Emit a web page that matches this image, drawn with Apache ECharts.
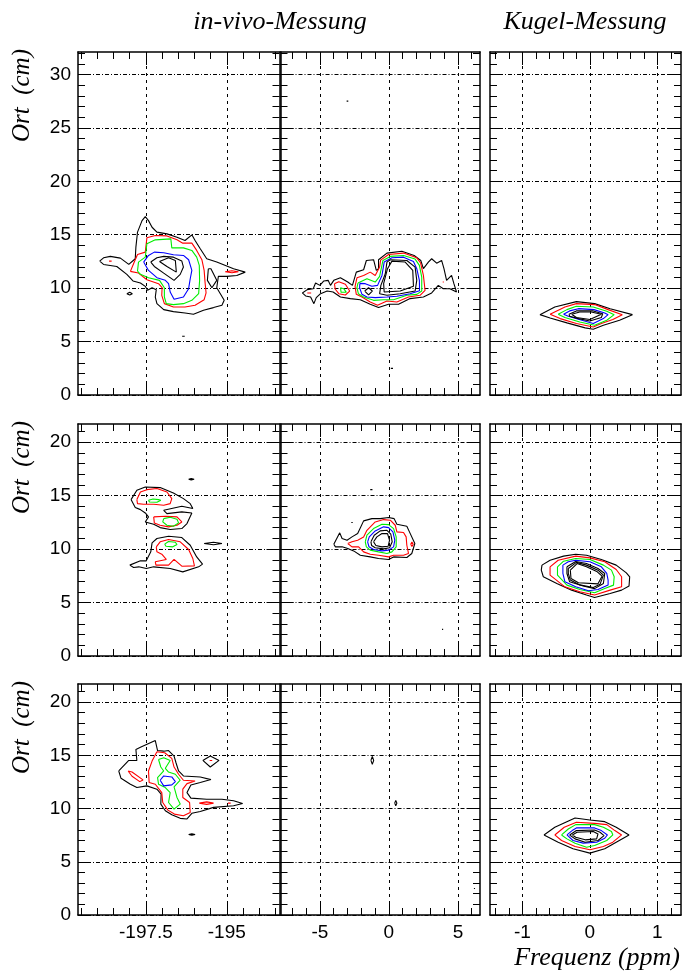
<!DOCTYPE html>
<html><head><meta charset="utf-8">
<script src="https://cdn.jsdelivr.net/npm/echarts@6/dist/echarts.min.js"></script>
<style>html,body{margin:0;padding:0;background:#fff}#c{width:682px;height:976px}</style>
</head><body><div id="c"></div>
<script>
// ================= DATA =================
const columnTitles = ['in-vivo-Messung', 'Kugel-Messung'];
const yTitle = 'Ort  (cm)';
const xTitle = 'Frequenz (ppm)';
const freqRanges = [[-199.6, -193.37], [-7.85, 6.6], [-1.48, 1.35]];
const ortRanges = [[0, 32.1], [0, 21.7], [0, 21.7]];
const freqMajor = [[-197.5, -195], [-5, 0, 5], [-1, 0, 1]];
const freqMinorStep = [0.5, 1, 0.2];
const ortMajor = [[0, 5, 10, 15, 20, 25, 30], [0, 5, 10, 15, 20], [0, 5, 10, 15, 20]];
const ortMinorStep = 1;

// contour rings: [level, [[freq, ort], ...]]   level 1 = outermost
const row1Wide = [
  [1, [[-198.93,12.53],[-198.81,12.84],[-198.60,12.97],[-198.29,12.81],[-198.03,12.22],[-197.83,12.75],[-197.81,13.84],[-197.76,15.24],[-197.62,16.32],[-197.52,16.70],[-197.42,16.32],[-197.31,15.70],[-197.16,15.24],[-196.85,15.08],[-196.54,14.77],[-196.29,14.46],[-196.08,14.99],[-195.98,14.46],[-195.82,13.68],[-195.62,12.75],[-195.31,12.44],[-194.79,11.82],[-194.43,11.50],[-194.69,11.19],[-195.00,11.10],[-195.26,11.10],[-195.31,10.04],[-195.08,8.86],[-195.15,8.40],[-195.41,8.18],[-195.72,7.93],[-196.03,7.56],[-196.29,7.68],[-196.65,7.80],[-196.95,7.99],[-197.16,8.55],[-197.21,9.17],[-197.18,9.86],[-197.31,10.04],[-197.45,9.80],[-197.52,10.17],[-197.67,10.48],[-197.90,10.67],[-198.09,11.29],[-198.40,12.03],[-198.81,12.22]]],
  [2, [[-197.98,11.57],[-197.86,12.45],[-197.76,13.15],[-197.52,13.37],[-197.47,14.71],[-197.21,14.93],[-196.85,14.89],[-196.54,14.52],[-196.36,14.21],[-196.08,14.21],[-195.93,13.53],[-195.77,12.66],[-195.70,11.66],[-195.67,10.48],[-195.64,9.55],[-195.70,8.92],[-195.98,8.40],[-196.29,8.24],[-196.65,8.24],[-196.93,8.55],[-197.01,9.33],[-197.00,10.04],[-197.11,10.42],[-197.47,10.79],[-197.73,11.41]]],
  [3, [[-197.76,11.60],[-197.73,12.44],[-197.52,12.90],[-197.47,14.15],[-197.21,14.52],[-196.73,14.61],[-196.70,13.77],[-196.34,13.77],[-196.08,13.53],[-195.93,12.90],[-195.85,12.13],[-195.84,10.73],[-195.87,9.48],[-196.08,8.86],[-196.34,8.55],[-196.65,8.46],[-196.87,8.55],[-196.93,9.17],[-196.93,10.04],[-197.08,10.73],[-197.42,10.98],[-197.67,11.29]]],
  [4, [[-197.57,12.44],[-197.42,13.06],[-197.24,13.37],[-196.95,13.31],[-196.65,13.12],[-196.34,13.06],[-196.18,12.66],[-196.08,11.66],[-196.13,10.88],[-196.18,9.95],[-196.34,9.17],[-196.63,8.96],[-196.75,9.64],[-196.80,10.42],[-196.90,10.73],[-197.16,10.98],[-197.42,11.66]]],
  [5, [[-197.35,12.44],[-197.16,12.84],[-196.95,12.97],[-196.65,12.90],[-196.39,12.53],[-196.34,11.97],[-196.44,11.29],[-196.63,10.73],[-196.95,11.41],[-197.24,12.03]]],
  [6, [[-197.08,12.50],[-196.80,12.84],[-196.59,12.59],[-196.56,11.50],[-196.85,12.03]]],
  [1, [[-195.57,11.82],[-195.60,10.73],[-195.46,10.04],[-195.31,10.73],[-195.49,11.82]]],
  [1, [[-198.09,9.48],[-198.00,9.61],[-197.92,9.48],[-198.00,9.36]]],
  [1, [[-196.38,5.50],[-196.34,5.56],[-196.30,5.50],[-196.34,5.44]]],
  [2, [[-198.64,12.53],[-198.60,12.58],[-198.56,12.53],[-198.60,12.48]]],
  [2, [[-195.05,11.54],[-194.84,11.63],[-194.64,11.54],[-194.84,11.44]]]
];
const row1Center = [
  [1, [[-6.27,9.55],[-5.91,9.86],[-5.48,9.95],[-5.31,10.48],[-5.00,10.26],[-4.71,10.67],[-4.40,10.73],[-4.23,10.26],[-3.99,10.73],[-3.51,10.98],[-2.98,10.57],[-2.64,10.26],[-2.36,11.50],[-1.83,11.72],[-1.63,12.59],[-1.11,12.66],[-0.91,11.66],[-0.75,11.82],[-0.75,12.66],[-0.14,13.28],[0.94,13.46],[1.83,13.06],[2.31,12.59],[2.50,11.82],[2.86,12.44],[3.10,12.75],[3.46,12.34],[3.82,12.59],[3.99,11.82],[4.18,10.73],[4.54,11.19],[4.71,10.42],[4.90,9.64],[4.42,9.95],[3.94,9.95],[3.58,10.26],[3.10,9.55],[2.50,9.17],[1.54,9.02],[0.70,8.49],[-0.02,8.49],[-0.75,8.18],[-1.35,8.49],[-2.07,8.92],[-2.79,9.02],[-3.51,9.17],[-4.04,9.64],[-4.47,9.73],[-4.95,9.48],[-5.26,9.11],[-5.43,8.55],[-5.67,9.17],[-6.03,9.27]]],
  [2, [[-2.31,10.98],[-1.83,11.19],[-1.35,11.50],[-0.99,11.19],[-0.67,11.97],[-0.60,12.62],[-0.02,13.15],[1.06,13.28],[2.02,12.84],[2.30,12.35],[2.50,11.19],[2.62,9.79],[2.26,9.33],[1.42,9.17],[0.58,8.71],[-0.14,8.80],[-0.82,8.40],[-1.35,8.71],[-1.95,9.17],[-2.36,9.42],[-2.45,10.17]]],
  [2, [[-3.94,10.42],[-3.63,10.60],[-3.15,10.36],[-2.84,9.73],[-3.15,9.36],[-3.63,9.48],[-3.89,9.92]]],
  [3, [[-3.51,10.04],[-3.27,9.95],[-3.08,9.61],[-3.46,9.61]]],
  [2, [[-5.91,9.55],[-5.77,9.64],[-5.63,9.55],[-5.77,9.45]]],
  [2, [[3.90,10.57],[3.94,10.62],[3.98,10.57],[3.94,10.52]]],
  [3, [[-2.24,10.48],[-1.59,10.88],[-0.99,10.57],[-0.67,11.10],[-0.43,12.59],[0.10,12.97],[1.06,13.06],[1.90,12.72],[2.21,12.13],[2.38,11.04],[2.38,9.73],[2.02,9.42],[1.30,9.33],[0.34,8.92],[-0.38,8.92],[-1.11,8.86],[-1.83,9.17],[-2.21,9.48],[-2.31,10.04]]],
  [4, [[-2.10,10.45],[-1.71,10.42],[-1.23,10.17],[-0.82,10.26],[-0.50,11.19],[-0.34,12.44],[0.22,12.84],[1.06,12.90],[1.78,12.50],[2.02,11.82],[2.21,10.73],[2.22,9.75],[1.54,9.48],[0.58,9.24],[-0.14,9.17],[-0.99,9.11],[-1.59,9.17],[-1.95,9.42],[-2.12,10.04]]],
  [5, [[0.10,12.66],[1.30,12.59],[1.90,11.97],[2.02,10.73],[1.90,9.73],[0.82,9.48],[-0.14,9.33],[-0.67,9.48],[-0.58,10.26],[-0.26,11.35],[-0.14,12.44]]],
  [6, [[0.22,12.53],[1.18,12.44],[1.73,11.66],[1.78,10.17],[0.82,9.73],[-0.34,9.64],[-0.38,10.42],[-0.10,11.82]]],
  [5, [[-1.75,9.73],[-1.47,10.04],[-1.20,9.73],[-1.47,9.36]]],
  [1, [[-3.06,27.5],[-3.0,27.62],[-2.94,27.5],[-3.0,27.38]]],
  [1, [[0.14,2.49],[0.22,2.6],[0.30,2.49],[0.22,2.38]]]
];
const row1Kugel = [
  [1, [[-0.74,7.52],[-0.52,8.24],[-0.20,8.74],[0.07,8.55],[0.30,8.08],[0.63,7.52],[0.44,7.00],[0.20,6.53],[0.05,6.16],[-0.07,6.28],[-0.34,6.75],[-0.59,7.21]]],
  [2, [[-0.59,7.56],[-0.37,8.24],[-0.20,8.55],[0.07,8.46],[0.27,7.99],[0.48,7.52],[0.34,7.06],[0.17,6.69],[0.05,6.37],[-0.20,6.69],[-0.44,7.15]]],
  [3, [[-0.47,7.56],[-0.34,7.99],[-0.20,8.30],[0.05,8.24],[0.25,7.84],[0.36,7.52],[0.25,7.00],[0.07,6.53],[-0.15,6.84],[-0.37,7.25]]],
  [4, [[-0.39,7.56],[-0.30,7.87],[-0.17,8.08],[0.06,7.99],[0.22,7.68],[0.27,7.52],[0.20,7.15],[0.05,6.69],[-0.12,7.00],[-0.32,7.37]]],
  [5, [[-0.31,7.56],[-0.20,7.87],[0.05,7.87],[0.19,7.60],[0.17,7.25],[0,6.93],[-0.17,7.15],[-0.30,7.37]]],
  [6, [[-0.27,7.56],[-0.15,7.77],[0.02,7.77],[0.17,7.56],[0,7.06],[-0.20,7.25]]]
];
const row2Wide = [
  [1, [[-197.96,14.63],[-197.78,15.50],[-197.52,15.81],[-197.06,15.75],[-196.65,15.25],[-196.34,14.72],[-196.13,14.25],[-196.05,13.79],[-196.39,14.01],[-196.95,13.63],[-196.85,13.32],[-196.39,13.48],[-196.08,13.38],[-196.23,12.39],[-196.39,11.92],[-196.75,11.83],[-197.06,12.01],[-197.26,12.32],[-197.52,12.54],[-197.42,13.01],[-197.52,13.38],[-197.67,13.69],[-197.83,13.88]]],
  [2, [[-197.78,14.63],[-197.67,15.34],[-197.47,15.56],[-197.16,15.66],[-196.85,15.34],[-196.70,14.72],[-196.75,14.25],[-196.95,14.10],[-197.26,14.19],[-197.57,14.19],[-197.76,14.25]]],
  [3, [[-197.42,14.57],[-197.28,14.69],[-197.11,14.63],[-197.04,14.57],[-197.16,14.38],[-197.39,14.41]]],
  [2, [[-197.26,13.01],[-196.90,13.07],[-196.54,13.01],[-196.39,12.54],[-196.54,12.23],[-196.80,12.08],[-197.06,12.23],[-197.24,12.45]]],
  [3, [[-196.95,12.85],[-196.75,12.97],[-196.54,12.79],[-196.49,12.45],[-196.65,12.14],[-196.85,12.23],[-196.98,12.54]]],
  [1, [[-198.00,8.50],[-197.67,8.90],[-197.49,8.90],[-197.35,9.74],[-197.31,10.58],[-197.16,10.99],[-196.80,11.20],[-196.39,11.08],[-196.13,10.36],[-195.93,9.27],[-195.75,8.59],[-195.87,8.34],[-196.36,7.87],[-196.75,8.19],[-197.26,8.34],[-197.49,8.19],[-197.72,8.34],[-197.88,8.28]]],
  [2, [[-197.18,10.21],[-197.06,10.68],[-196.80,10.89],[-196.44,10.68],[-196.18,9.96],[-196.05,9.12],[-196.00,8.43],[-196.39,8.40],[-196.63,9.03],[-196.80,8.50],[-197.19,8.50],[-197.21,8.81],[-196.87,9.03],[-197.01,9.52],[-197.16,9.74]]],
  [3, [[-196.92,10.46],[-196.80,10.71],[-196.59,10.64],[-196.54,10.43],[-196.67,10.21],[-196.88,10.27]]],
  [1, [[-195.70,10.52],[-195.41,10.64],[-195.15,10.52],[-195.41,10.40]]],
  [1, [[-196.18,16.53],[-196.10,16.59],[-196.01,16.53],[-196.10,16.46]]]
];
const row2Center = [
  [1, [[-3.99,10.46],[-3.56,11.52],[-3.39,10.99],[-3.03,10.83],[-2.67,11.14],[-2.26,11.45],[-1.83,12.64],[-1.23,12.85],[-0.63,12.85],[-0.02,12.95],[0.38,12.85],[0.58,12.32],[1.30,12.14],[1.49,11.61],[1.88,10.52],[1.66,9.59],[1.30,9.21],[0.34,9.27],[-0.02,9.03],[-0.75,9.12],[-1.35,9.27],[-2.07,9.43],[-2.55,9.83],[-2.98,10.05],[-3.39,10.21],[-3.87,10.21]]],
  [2, [[-2.98,10.52],[-2.67,10.68],[-2.26,10.83],[-1.83,11.14],[-1.59,11.76],[-0.99,12.54],[-0.38,12.76],[0.10,12.70],[0.46,12.23],[0.58,11.61],[1.06,11.55],[1.25,11.14],[1.30,10.36],[1.42,9.59],[1.06,9.43],[0.34,9.43],[-0.02,9.27],[-0.75,9.43],[-1.35,9.52],[-1.83,9.74],[-2.19,10.21],[-2.67,10.21]]],
  [2, [[1.58,10.46],[1.67,10.66],[1.76,10.46],[1.67,10.24]]],
  [3, [[-1.71,10.68],[-1.59,11.30],[-1.11,11.92],[-0.50,12.32],[-0.02,12.29],[0.34,11.92],[0.53,11.14],[0.53,10.21],[0.22,9.74],[-0.14,9.59],[-0.75,9.74],[-1.35,9.90],[-1.63,10.21]]],
  [4, [[-1.54,10.68],[-1.42,11.14],[-0.99,11.70],[-0.38,12.08],[-0.02,12.01],[0.29,11.61],[0.43,10.83],[0.34,10.21],[-0.02,9.90],[-0.50,9.83],[-1.11,9.96],[-1.44,10.21]]],
  [5, [[-1.30,10.68],[-1.06,11.30],[-0.63,11.70],[-0.14,11.76],[0.14,11.39],[0.24,10.68],[0.05,10.12],[-0.38,10.02],[-0.99,10.12],[-1.25,10.33]]],
  [6, [[-1.11,10.68],[-0.87,11.14],[-0.50,11.45],[-0.10,11.45],[0.05,10.83],[-0.05,10.27],[-0.50,10.21],[-0.94,10.33]]],
  [1, [[-2.72,12.48],[-2.67,12.54],[-2.62,12.48],[-2.67,12.42]]],
  [1, [[-1.35,15.56],[-1.27,15.60],[-1.19,15.56],[-1.27,15.52]]],
  [1, [[3.85,2.49],[3.89,2.54],[3.93,2.49],[3.89,2.44]]]
];
const row2Kugel = [
  [1, [[-0.71,8.50],[-0.59,8.96],[-0.39,9.34],[-0.21,9.52],[-0.05,9.43],[0.17,9.03],[0.39,8.50],[0.54,7.78],[0.59,7.41],[0.58,6.54],[0.47,6.16],[0.30,5.85],[0.07,5.48],[-0.05,5.70],[-0.27,6.16],[-0.49,6.78],[-0.69,7.41],[-0.72,8.03]]],
  [2, [[-0.59,8.34],[-0.47,8.96],[-0.21,9.34],[0,9.18],[0.22,8.81],[0.39,8.09],[0.47,7.41],[0.47,6.47],[0.30,6.16],[0.07,5.70],[-0.15,6.01],[-0.37,6.47],[-0.59,7.56]]],
  [3, [[-0.48,8.34],[-0.39,8.87],[-0.21,9.12],[0,9.03],[0.20,8.50],[0.32,8.03],[0.36,7.41],[0.35,6.63],[0.22,6.32],[0.07,5.91],[-0.15,6.22],[-0.34,6.63],[-0.48,7.56]]],
  [4, [[-0.40,8.50],[-0.32,8.81],[-0.21,8.96],[0,8.81],[0.17,8.34],[0.25,7.72],[0.27,7.10],[0.27,6.63],[0.12,6.22],[-0.02,6.10],[-0.21,6.47],[-0.37,6.94],[-0.40,7.72]]],
  [5, [[-0.34,8.34],[-0.21,8.84],[-0.05,8.65],[0.12,8.19],[0.22,7.72],[0.20,6.78],[0.07,6.30],[-0.10,6.54],[-0.30,6.94],[-0.34,7.72]]],
  [6, [[-0.32,8.19],[-0.20,8.76],[-0.05,8.50],[0.12,8.03],[0.20,7.56],[0.15,6.70],[0.05,6.40],[-0.15,6.65],[-0.29,7.10],[-0.32,7.72]]],
  [7, [[-0.29,8.03],[-0.19,8.65],[-0.05,8.34],[0.11,7.87],[0.18,7.47],[0.12,6.75],[-0.17,6.85],[-0.28,7.25]]]
];
const row3Wide = [
  [1, [[-198.34,13.53],[-198.03,14.52],[-197.78,14.52],[-197.81,15.55],[-197.67,15.76],[-197.21,16.39],[-197.14,15.45],[-196.95,15.39],[-196.80,15.45],[-196.63,14.93],[-196.57,14.30],[-196.49,13.53],[-196.34,13.06],[-195.82,12.97],[-195.49,12.72],[-195.82,12.44],[-196.11,12.22],[-196.23,11.50],[-196.11,10.98],[-195.62,10.88],[-195.15,10.88],[-194.79,10.73],[-194.51,10.48],[-194.79,10.26],[-195.41,10.11],[-195.82,9.73],[-196.08,9.55],[-196.23,9.02],[-196.44,9.08],[-196.70,9.42],[-196.90,9.79],[-197.04,10.42],[-197.03,11.35],[-197.16,11.82],[-197.47,12.13],[-197.78,11.97],[-197.98,12.28],[-198.27,12.84]]],
  [2, [[-197.16,15.33],[-196.92,15.24],[-196.70,14.71],[-196.63,13.90],[-196.49,13.22],[-196.34,12.66],[-195.98,12.59],[-195.98,12.47],[-196.23,12.34],[-196.36,11.82],[-196.36,11.04],[-196.15,10.57],[-196.13,9.64],[-196.34,9.33],[-196.62,9.48],[-196.82,9.85],[-196.98,10.57],[-197.01,11.50],[-197.21,12.28],[-197.40,12.44],[-197.42,13.53],[-197.31,14.46]]],
  [2, [[-198.05,13.53],[-197.93,13.43],[-197.59,12.69],[-197.69,12.53],[-197.93,13.03]]],
  [2, [[-195.85,10.51],[-195.62,10.63],[-195.41,10.51],[-195.62,10.39]]],
  [2, [[-194.96,10.51],[-194.92,10.55],[-194.88,10.51],[-194.92,10.47]]],
  [1, [[-195.74,14.52],[-195.51,14.93],[-195.24,14.52],[-195.51,13.90]]],
  [2, [[-195.53,14.52],[-195.49,14.56],[-195.45,14.52],[-195.49,14.48]]],
  [1, [[-196.18,7.56],[-196.08,7.62],[-195.98,7.56],[-196.08,7.49]]],
  [3, [[-197.11,14.61],[-196.95,14.77],[-196.75,14.52],[-196.90,13.78],[-196.80,13.43],[-196.59,13.22],[-196.44,12.66],[-196.63,12.03],[-196.54,11.04],[-196.44,10.42],[-196.63,9.95],[-196.80,10.57],[-196.75,11.50],[-196.90,11.97],[-197.11,12.28],[-197.14,12.90],[-196.95,13.53],[-197.04,13.90]]],
  [4, [[-197.06,12.66],[-196.95,13.06],[-196.70,12.97],[-196.59,12.53],[-196.70,12.22],[-196.95,12.13]]]
];
const row3Center = [
  [1, [[-1.30,14.52],[-1.20,14.90],[-1.10,14.52],[-1.20,14.15]]],
  [1, [[0.42,10.51],[0.50,10.76],[0.58,10.51],[0.50,10.26]]],
  [1, [[6.16,2.49],[6.20,2.54],[6.24,2.49],[6.20,2.44]]]
];
const row3Kugel = [
  [1, [[-0.68,7.52],[-0.52,8.24],[-0.22,9.11],[0,8.92],[0.22,8.77],[0.39,8.24],[0.58,7.52],[0.39,6.84],[0.22,6.22],[0,5.81],[-0.25,6.22],[-0.47,6.84]]],
  [2, [[-0.52,7.52],[-0.38,8.24],[-0.20,8.71],[0.07,8.61],[0.25,8.49],[0.37,7.93],[0.47,7.52],[0.34,6.84],[0.20,6.44],[0,6.13],[-0.22,6.44],[-0.42,7.00]]],
  [3, [[-0.42,7.52],[-0.32,8.08],[-0.21,8.49],[0.07,8.49],[0.20,8.24],[0.32,7.84],[0.34,7.52],[0.25,7.00],[0.07,6.53],[-0.05,6.37],[-0.22,6.75],[-0.34,7.15]]],
  [4, [[-0.34,7.52],[-0.25,7.99],[-0.20,8.18],[0.07,8.18],[0.17,7.93],[0.26,7.52],[0.22,7.21],[0.10,6.84],[-0.10,6.75],[-0.25,7.00]]],
  [5, [[-0.30,7.52],[-0.20,7.93],[0.07,7.99],[0.15,7.77],[0.21,7.46],[0.12,7.00],[-0.07,6.84],[-0.22,7.15]]],
  [6, [[-0.26,7.52],[-0.19,7.77],[0.05,7.84],[0.12,7.62],[0.10,7.15],[-0.07,7.06],[-0.21,7.31]]]
];
const panels = [
  [row1Wide, row1Center, row1Kugel],
  [row2Wide, row2Center, row2Kugel],
  [row3Wide, row3Center, row3Kugel]
];

// ================= STYLE / LAYOUT =================
const colBoxes = [{left: 78, width: 201.5}, {left: 280.5, width: 199.5}, {left: 490, width: 191}];
const rowBoxes = [{top: 52, height: 343}, {top: 424, height: 232}, {top: 684, height: 231}];
const levelColor = lv => ({1: '#000', 2: '#ff0000', 3: '#00ee00', 4: '#0000ff'})[lv] || '#000';
const SANS = '"Liberation Sans", Arial, Helvetica, sans-serif';
const SERIF = '"Liberation Serif", "Times New Roman", Times, serif';

function steps(min, max, step) {
  const out = [];
  const k0 = Math.ceil(min / step - 1e-9), k1 = Math.floor(max / step + 1e-9);
  for (let k = k0; k <= k1; k++) out.push(+(k * step).toFixed(6));
  return out;
}

const grids = [], xAxes = [], yAxes = [], series = [];
const lineBlack = {color: '#000', width: 1};
const frame = {show: true, onZero: false, lineStyle: {color: '#000', width: 1.5}};

for (let r = 0; r < 3; r++) {
  for (let c = 0; c < 3; c++) {
    const gi = grids.length;
    grids.push({left: colBoxes[c].left, width: colBoxes[c].width, top: rowBoxes[r].top, height: rowBoxes[r].height, show: false});
    const [xmin, xmax] = freqRanges[c];
    const [ymin, ymax] = ortRanges[r];
    const xMinor = steps(xmin, xmax, freqMinorStep[c]);
    const yMinor = steps(ymin, ymax, ortMinorStep);
    const xb = {gridIndex: gi, type: 'value', min: xmin, max: xmax, axisPointer: {show: false}, splitLine: {show: false}, axisLabel: {show: false}};
    const yb = {gridIndex: gi, type: 'value', min: ymin, max: ymax, axisPointer: {show: false}, splitLine: {show: false}, axisLabel: {show: false}};
    const xi = xAxes.length;
    xAxes.push(Object.assign({}, xb, {position: 'bottom', axisLine: frame,
      axisTick: {show: true, inside: true, length: 13, customValues: freqMajor[c], lineStyle: lineBlack},
      axisLabel: {show: r === 2, customValues: freqMajor[c], color: '#000', fontSize: 19, fontFamily: SANS, margin: 8},
      splitLine: {show: true, lineStyle: {color: '#000', width: 1, type: [3, 4]}}}));
    xAxes.push(Object.assign({}, xb, {position: 'bottom', axisLine: {show: false, onZero: false},
      axisTick: {show: true, inside: true, length: 7, customValues: xMinor, lineStyle: lineBlack}}));
    xAxes.push(Object.assign({}, xb, {position: 'top', axisLine: frame,
      axisTick: {show: true, inside: true, length: 13, customValues: freqMajor[c], lineStyle: lineBlack}}));
    xAxes.push(Object.assign({}, xb, {position: 'top', axisLine: {show: false, onZero: false},
      axisTick: {show: true, inside: true, length: 7, customValues: xMinor, lineStyle: lineBlack}}));
    const yi = yAxes.length;
    yAxes.push(Object.assign({}, yb, {position: 'left', axisLine: frame,
      axisTick: {show: true, inside: true, length: 13, customValues: ortMajor[r], lineStyle: lineBlack},
      axisLabel: {show: c === 0, customValues: ortMajor[r], color: '#000', fontSize: 19, fontFamily: SANS, margin: 7},
      splitLine: {show: true, lineStyle: {color: '#000', width: 1, type: [4, 2, 1, 2]}}}));
    yAxes.push(Object.assign({}, yb, {position: 'left', axisLine: {show: false, onZero: false},
      axisTick: {show: true, inside: true, length: 7, customValues: yMinor, lineStyle: lineBlack}}));
    yAxes.push(Object.assign({}, yb, {position: 'right', axisLine: frame,
      axisTick: {show: true, inside: true, length: 13, customValues: ortMajor[r], lineStyle: lineBlack}}));
    yAxes.push(Object.assign({}, yb, {position: 'right', axisLine: {show: false, onZero: false},
      axisTick: {show: true, inside: true, length: 7, customValues: yMinor, lineStyle: lineBlack}}));

    panels[r][c].forEach(([lv, ring]) => {
      series.push({
        type: 'line', xAxisIndex: xi, yAxisIndex: yi,
        data: ring.concat([ring[0]]),
        showSymbol: false, symbol: 'none', smooth: false, clip: true,
        lineStyle: {color: levelColor(lv), width: 1.1}, itemStyle: {color: levelColor(lv)},
        animation: false, silent: true, z: 3
      });
    });
  }
}

const graphic = [
  {type: 'text', x: 280, y: 22, style: {text: columnTitles[0], font: 'italic 26px ' + SERIF, fill: '#000', align: 'center', verticalAlign: 'middle'}},
  {type: 'text', x: 585, y: 22, style: {text: columnTitles[1], font: 'italic 26px ' + SERIF, fill: '#000', align: 'center', verticalAlign: 'middle'}},
  {type: 'text', x: 680, y: 958, style: {text: xTitle, font: 'italic 26px ' + SERIF, fill: '#000', align: 'right', verticalAlign: 'middle'}}
];
rowBoxes.forEach(rb => {
  graphic.push({type: 'text', x: 22, y: rb.top - 3, rotation: Math.PI / 2,
    style: {text: yTitle, font: 'italic 25px ' + SERIF, fill: '#000', align: 'right', verticalAlign: 'middle'}});
});

const chart = echarts.init(document.getElementById('c'), null, {renderer: 'canvas'});
chart.setOption({
  animation: false,
  backgroundColor: '#fff',
  grid: grids, xAxis: xAxes, yAxis: yAxes, series: series, graphic: graphic
});
</script>
</body></html>
